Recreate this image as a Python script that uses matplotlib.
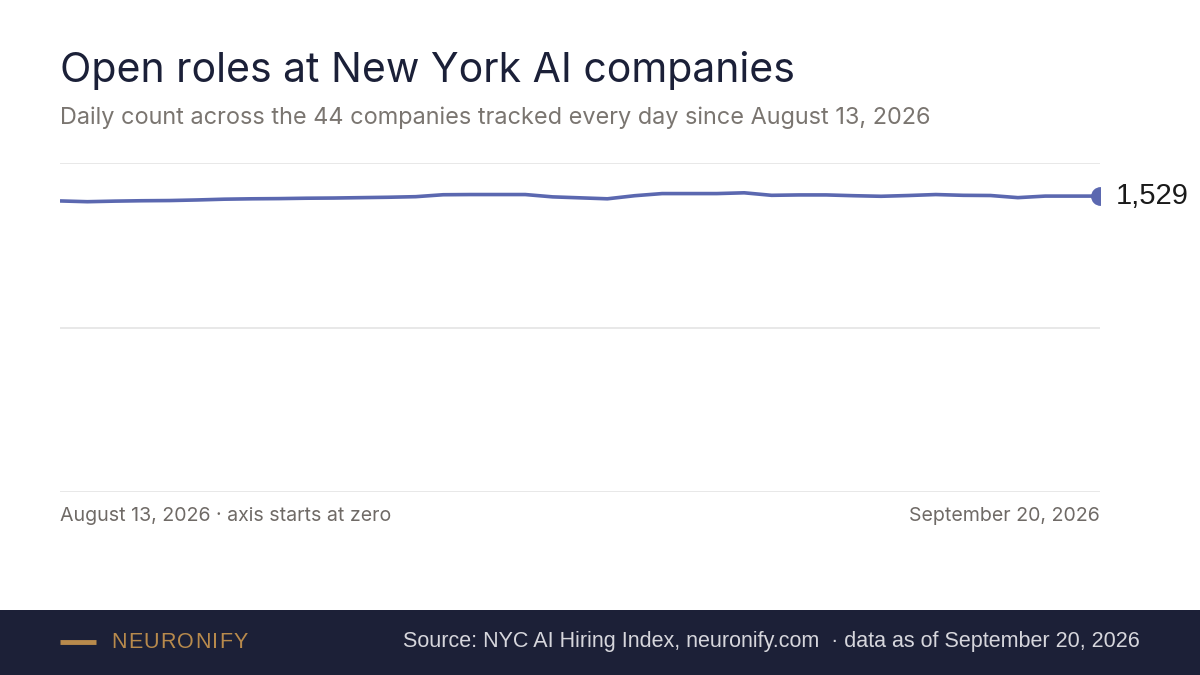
import matplotlib
matplotlib.use("Agg")
import matplotlib.pyplot as plt
import numpy as np
import pandas as pd
from matplotlib.patches import Rectangle
from matplotlib.lines import Line2D

plt.rcParams['font.family'] = ['Inter', 'DejaVu Sans']

# ---- data ----
start_date = "2026-08-13"
end_date = "2026-09-20"
open_roles = [1504, 1500, 1503, 1505, 1506, 1509, 1513, 1515, 1516, 1518,
              1519, 1521, 1523, 1526, 1536, 1537, 1537, 1537, 1525, 1520,
              1515, 1531, 1542, 1542, 1542, 1546, 1533, 1535, 1535, 1531,
              1528, 1532, 1537, 1533, 1532, 1521, 1529, 1529, 1529]
y_ticks = [0, 850, 1700]
title = "Open roles at New York AI companies"
subtitle = "Daily count across the 44 companies tracked every day since August 13, 2026"
left_label = "August 13, 2026 · axis starts at zero"
right_label = "September 20, 2026"
brand = "NEURONIFY"
source = "Source: NYC AI Hiring Index, neuronify.com  · data as of September 20, 2026"

dates = pd.date_range(start_date, end_date, freq="D")

W, H = 1200, 675
fig = plt.figure(figsize=(12, 6.75), dpi=100)
fig.patch.set_facecolor("white")

def fx(px):
    return px / W

def fy(py):
    return 1 - py / H

ax = fig.add_axes([fx(60), fy(492), fx(1100) - fx(60), fy(163) - fy(492)])
ax.set_facecolor("white")
line_color = "#5b68b0"
ax.plot(dates, open_roles, color=line_color, lw=2.6, solid_capstyle="butt",
        solid_joinstyle="round", zorder=3)
ax.plot(dates[-1], open_roles[-1], "o", color=line_color, ms=12.5, zorder=4,
        clip_on=True)
ax.set_xlim(dates[0], dates[-1])
ax.set_ylim(y_ticks[0], y_ticks[-1])
for t in y_ticks:
    ax.axhline(t, color="#e2e2e2", lw=1.1, zorder=1)
for s in ax.spines.values():
    s.set_visible(False)
ax.set_xticks([])
ax.set_yticks([])

ax.annotate(f"{open_roles[-1]:,}", xy=(dates[-1], open_roles[-1]),
            xytext=(11, 0), textcoords="offset points", ha="left", va="center",
            fontsize=21, color="#1a1a1a", family=["Liberation Sans", "DejaVu Sans"],
            annotation_clip=False)

fig.text(fx(60), fy(71), title, fontsize=29.5, color="#1b2038",
         ha="left", va="center")
fig.text(fx(60), fy(118), subtitle, fontsize=16.9, color="#7a7570",
         ha="left", va="center")
fig.text(fx(60), fy(516), left_label, fontsize=14.1, color="#6f6a66",
         ha="left", va="center")
fig.text(fx(1100), fy(516), right_label, fontsize=14.1, color="#6f6a66",
         ha="right", va="center")

# footer
fig.patches.append(Rectangle((0, 0), 1, fy(610), transform=fig.transFigure,
                             facecolor="#1c2037", edgecolor="none", zorder=0))
fig.add_artist(Line2D([fx(60), fx(96)], [fy(642), fy(642)], transform=fig.transFigure,
                      color="#b88a4c", lw=3.5, solid_capstyle="butt"))

# letter-spaced brand name
renderer = fig.canvas.get_renderer()
x_px = 111.0
tracking = 1.3
for ch in brand:
    t = fig.text(fx(x_px), fy(642), ch, fontsize=15.5, color="#b88a4c", ha="left",
                 va="center", family=["Liberation Sans", "DejaVu Sans"])
    bb = t.get_window_extent(renderer=renderer)
    x_px += bb.width + tracking

fig.text(fx(1140), fy(642), source, fontsize=15.5, color="#d6d6dc", ha="right",
         va="center", family=["Liberation Sans", "DejaVu Sans"])

fig.savefig("out.png", dpi=100, facecolor="white")
